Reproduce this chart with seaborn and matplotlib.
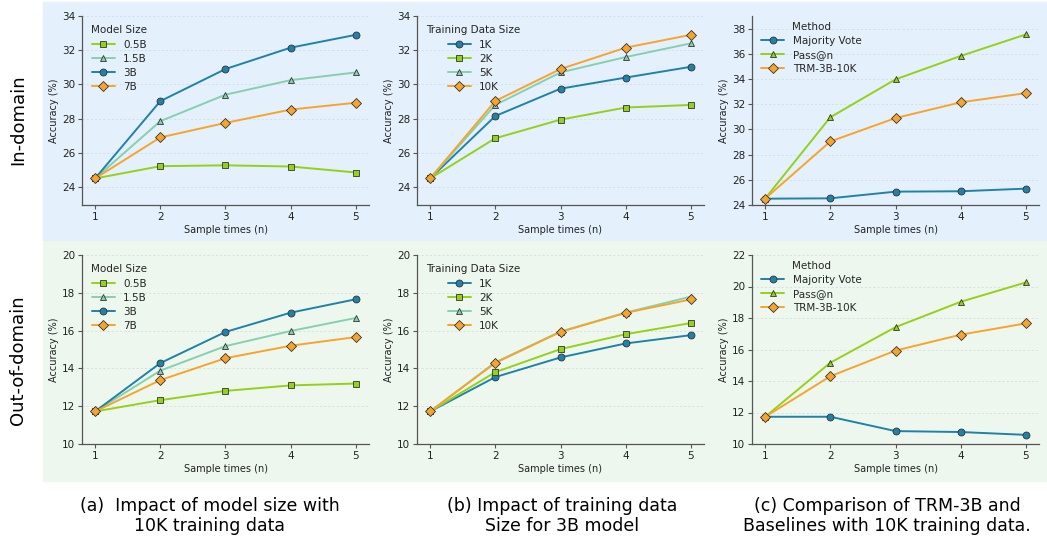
import pandas as pd
import seaborn as sns
import matplotlib
matplotlib.use('Agg')
import matplotlib.pyplot as plt
from matplotlib.patches import Rectangle

# x values (sample times)
samples = [1, 2, 3, 4, 5]

# In-domain
in_model = {
    '0.5B': [24.5, 25.22, 25.27, 25.2, 24.85],
    '1.5B': [24.5, 27.85, 29.4, 30.25, 30.7],
    '3B': [24.5, 29.02, 30.9, 32.15, 32.9],
    '7B': [24.5, 26.9, 27.75, 28.53, 28.93],
}
in_data = {
    '1K': [24.5, 28.15, 29.75, 30.4, 31.03],
    '2K': [24.5, 26.85, 27.94, 28.65, 28.8],
    '5K': [24.5, 28.8, 30.7, 31.6, 32.4],
    '10K': [24.5, 29.03, 30.9, 32.15, 32.9],
}
in_method = {
    'Majority Vote': [24.5, 24.53, 25.06, 25.09, 25.3],
    'Pass@n': [24.5, 30.96, 33.97, 35.83, 37.54],
    'TRM-3B-10K': [24.5, 29.04, 30.9, 32.15, 32.88],
}

# Out-of-domain
out_model = {
    '0.5B': [11.72, 12.32, 12.81, 13.1, 13.2],
    '1.5B': [11.72, 13.88, 15.18, 15.98, 16.67],
    '3B': [11.72, 14.28, 15.93, 16.95, 17.66],
    '7B': [11.72, 13.38, 14.54, 15.2, 15.66],
}
out_data = {
    '1K': [11.72, 13.54, 14.58, 15.32, 15.76],
    '2K': [11.72, 13.8, 15.02, 15.81, 16.4],
    '5K': [11.72, 14.32, 15.95, 16.95, 17.8],
    '10K': [11.72, 14.29, 15.93, 16.94, 17.65],
}
out_method = {
    'Majority Vote': [11.73, 11.73, 10.82, 10.76, 10.58],
    'Pass@n': [11.72, 15.16, 17.42, 19.03, 20.26],
    'TRM-3B-10K': [11.72, 14.3, 15.93, 16.94, 17.66],
}

BLUE = '#1f82ab'
LIME = '#94d11a'
TEAL = '#86d0b0'
ORANGE = '#f7a42c'

styles = {
    '0.5B': (LIME, 's'), '1.5B': (TEAL, '^'), '3B': (BLUE, 'o'), '7B': (ORANGE, 'D'),
    '1K': (BLUE, 'o'), '2K': (LIME, 's'), '5K': (TEAL, '^'), '10K': (ORANGE, 'D'),
    'Majority Vote': (BLUE, 'o'), 'Pass@n': (LIME, '^'), 'TRM-3B-10K': (ORANGE, 'D'),
}

panels = [
    (in_model, 'Model Size', (22.95, 34), range(24, 35, 2)),
    (in_data, 'Training Data Size', (22.95, 34), range(24, 35, 2)),
    (in_method, 'Method', (24, 39), range(24, 39, 2)),
    (out_model, 'Model Size', (10, 20), range(10, 21, 2)),
    (out_data, 'Training Data Size', (10, 20), range(10, 21, 2)),
    (out_method, 'Method', (10, 22), range(10, 23, 2)),
]

sns.set_style('ticks')
plt.rcParams['font.family'] = ['DejaVu Sans']

W, H = 1047, 539
fig = plt.figure(figsize=(W / 100, H / 100), dpi=100)

# row backgrounds
fig.patches.append(Rectangle((43 / W, 1 - 241 / H), 1 - 43 / W, 239 / H,
                             transform=fig.transFigure, color='#e4f0fb', zorder=-5))
fig.patches.append(Rectangle((43 / W, 1 - 481 / H), 1 - 43 / W, 240 / H,
                             transform=fig.transFigure, color='#eef7ee', zorder=-5))

lefts = [82, 417, 752]
bottoms = [205, 444]
aw, ah = 287, 189

for i, (series, title, ylim, yticks) in enumerate(panels):
    row, col = divmod(i, 3)
    ax = fig.add_axes([lefts[col] / W, 1 - bottoms[row] / H, aw / W, ah / H])
    ax.patch.set_alpha(0)
    rows = []
    for name, vals in series.items():
        for x, v in zip(samples, vals):
            rows.append({'n': x, 'acc': v, 'series': name})
    df = pd.DataFrame(rows)
    names = list(series.keys())
    sns.lineplot(data=df, x='n', y='acc', hue='series', style='series',
                 hue_order=names, style_order=names,
                 palette={k: styles[k][0] for k in names},
                 markers={k: styles[k][1] for k in names},
                 dashes=False, linewidth=1.4, markersize=5,
                 markeredgecolor='#333333', markeredgewidth=0.6, ax=ax)
    ax.set_xlim(0.8, 5.2)
    ax.set_ylim(*ylim)
    ax.set_xticks(samples)
    ax.set_yticks(list(yticks))
    ax.tick_params(labelsize=7.5, length=3, width=0.8, color='#555555', pad=2,
                   labelcolor='#222222')
    ax.grid(axis='y', color='#cfd8dc', linestyle=(0, (3, 3)), linewidth=0.5)
    for s in ['top', 'right']:
        ax.spines[s].set_visible(False)
    for s in ['left', 'bottom']:
        ax.spines[s].set_color('#555555')
        ax.spines[s].set_linewidth(0.9)
    ax.set_xlabel('Sample times (n)', fontsize=7, labelpad=2, color='#222222')
    ax.set_ylabel('Accuracy (%)', fontsize=7, labelpad=2, color='#222222')
    ax.legend(title=title, loc='upper left', frameon=False, fontsize=7.5,
              title_fontsize=7.5, handlelength=2.2, labelspacing=0.4,
              bbox_to_anchor=(0.0, 1.0) if col != 2 else (0.0, 1.02))

fig.text(18 / W, 1 - 120 / H, 'In-domain', rotation=90, ha='center', va='center',
         fontsize=13, color='black')
fig.text(18 / W, 1 - 360 / H, 'Out-of-domain', rotation=90, ha='center', va='center',
         fontsize=13, color='black')

captions = [
    (210, '(a)  Impact of model size with\n10K training data'),
    (562, '(b) Impact of training data\nSize for 3B model'),
    (887, '(c) Comparison of TRM-3B and\nBaselines with 10K training data.'),
]
for x, txt in captions:
    fig.text(x / W, 1 - 516 / H, txt, ha='center', va='center', fontsize=12.5,
             linespacing=1.1, color='black')

fig.savefig('out.png', dpi=100)
